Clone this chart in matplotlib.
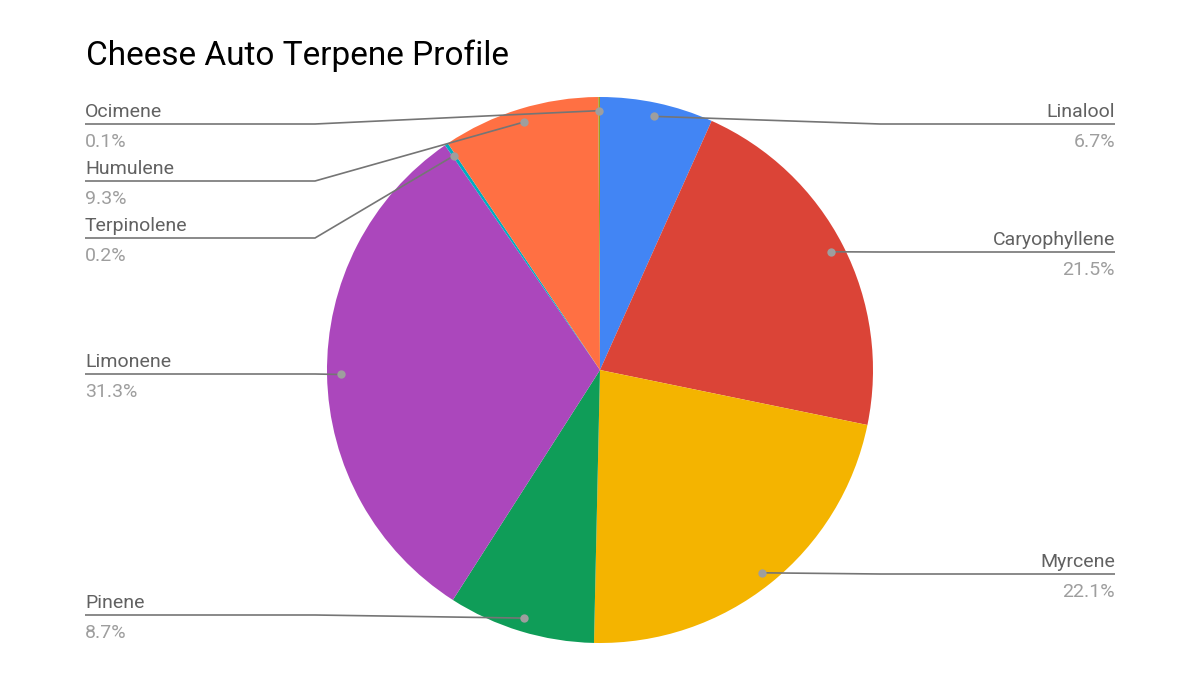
import numpy as np
import matplotlib
matplotlib.use("Agg")
import matplotlib.pyplot as plt

# -------------------------
# Data
# -------------------------
names = ["Linalool", "Caryophyllene", "Myrcene", "Pinene", "Limonene",
         "Terpinolene", "Humulene", "Ocimene"]
values = [6.7, 21.5, 22.1, 8.7, 31.3, 0.2, 9.3, 0.1]
colors = ["#4285F4", "#DB4437", "#F4B400", "#0F9D58", "#AB47BC",
          "#00ACC1", "#FF7043", "#9E9D24"]
title = "Cheese Auto Terpene Profile"

# label layout (pixel rows of the underline, side of chart)
label_y = {"Linalool": 124, "Caryophyllene": 252, "Myrcene": 574,
           "Pinene": 615, "Limonene": 374, "Terpinolene": 238,
           "Humulene": 181, "Ocimene": 124}

plt.rcParams["font.family"] = ["Roboto", "DejaVu Sans"]

W, H = 1200, 679
fig = plt.figure(figsize=(W / 100, H / 100), dpi=100)
ax = fig.add_axes([0, 0, 1, 1])

cx, cy, r = 600, H - 370, 273

ax.pie(values, colors=colors, startangle=90, counterclock=False,
       center=(cx, cy), radius=r, frame=True,
       wedgeprops=dict(linewidth=0))
ax.set_xlim(0, W)
ax.set_ylim(0, H)
ax.set_aspect("equal")
ax.axis("off")

total = sum(values)
cum = np.cumsum([0] + values[:-1])
left_x, right_x = 85, 1115
left_elbow, right_elbow = 315, 880

for name, v, c0 in zip(names, values, cum):
    mid = (c0 + v / 2) / total * 2 * np.pi
    dx = cx + 0.95 * r * np.sin(mid)
    dy = cy + 0.95 * r * np.cos(mid)
    ly = H - label_y[name]
    right = dx > cx + 1
    if right:
        xs = [dx, right_elbow, right_x] if dx < right_elbow else [dx, right_x]
        tx, ha = right_x, "right"
    else:
        xs = [dx, left_elbow, left_x] if dx > left_elbow else [dx, left_x]
        tx, ha = left_x, "left"
    ys = [dy] + [ly] * (len(xs) - 1)
    ax.plot(xs, ys, color="#757575", lw=1.2, solid_capstyle="butt", zorder=3)
    ax.plot(dx, dy, "o", color="#9E9E9E", ms=6, mec="none", zorder=4)
    ax.text(tx, ly + 7, name, ha=ha, va="baseline", fontsize=14,
            color="#616161")
    ax.text(tx, ly - 23, f"{v}%", ha=ha, va="baseline", fontsize=14,
            color="#9E9E9E")

ax.text(86, H - 65, title, ha="left", va="baseline", fontsize=24,
        color="#000000")

fig.savefig("out.png", dpi=100, facecolor="white")
